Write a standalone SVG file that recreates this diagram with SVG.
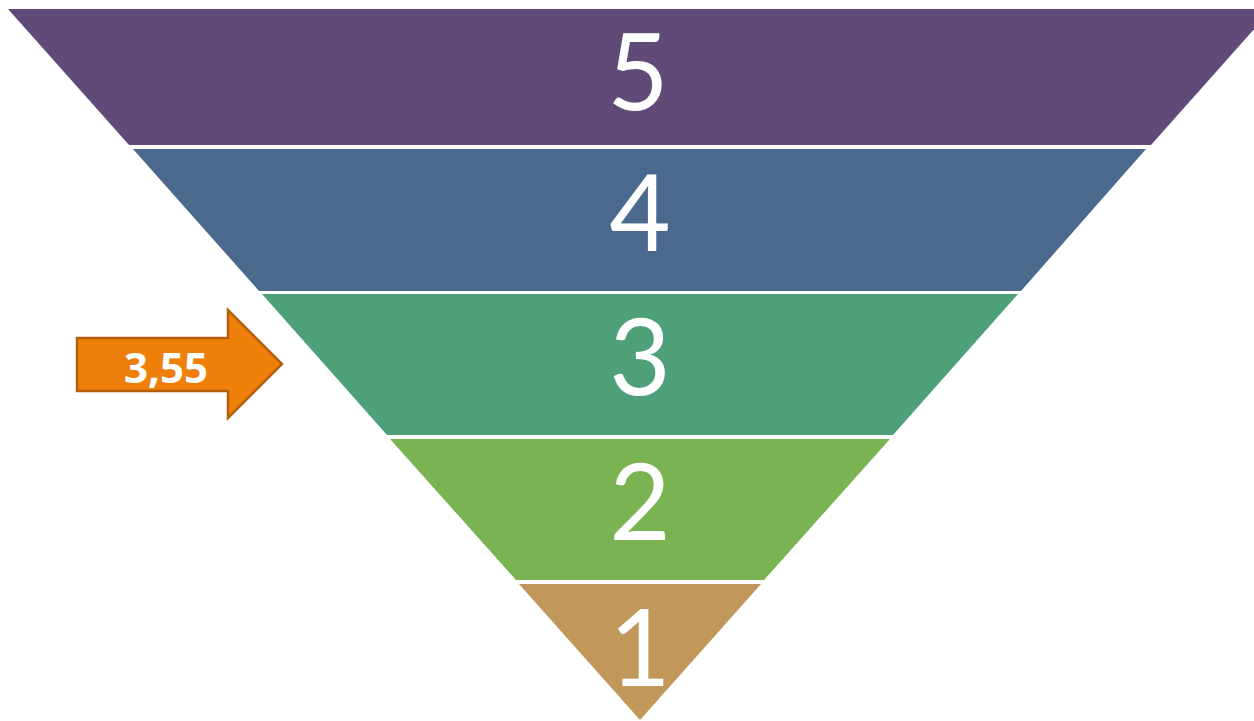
<svg xmlns="http://www.w3.org/2000/svg" width="1254" height="721" viewBox="0 0 1254 721">
  <style>
    .num { font-family: Lato, "Noto Sans", sans-serif; font-size: 106px; fill: #ffffff; text-anchor: middle; }
    .lbl { font-family: "Open Sans", "Liberation Sans", sans-serif; font-weight: bold; font-size: 42px; fill: #ffffff; text-anchor: middle; }
  </style>
  <rect width="1254" height="721" fill="#ffffff"/>
  <g id="level5">
    <polygon points="8,9 1272,9 1151,145 129,145" fill="#604A78"/>
    <text class="num" x="638" y="110">5</text>
  </g>
  <g id="level4">
    <polygon points="133,149 1146,149 1021,291 259,291" fill="#4A698C"/>
    <text class="num" x="640" y="251">4</text>
  </g>
  <g id="level3">
    <polygon points="262,294 1018,294 893,435 387,435" fill="#4EA07A"/>
    <text class="num" x="640" y="395">3</text>
  </g>
  <g id="level2">
    <polygon points="390,439 890,439 764,580 516,580" fill="#7AB351"/>
    <text class="num" x="640" y="540">2</text>
  </g>
  <g id="level1">
    <polygon points="519,584 761,584 640,720" fill="#C2985A"/>
    <text class="num" x="640" y="686">1</text>
  </g>
  <g id="marker">
    <polygon points="77,338 228,338 228,310 282,364 228,418 228,391 77,391" fill="#EF7F0B" stroke="#B35F0D" stroke-width="2.5" stroke-linejoin="miter"/>
    <text class="lbl" x="166" y="383">3,55</text>
  </g>
</svg>
